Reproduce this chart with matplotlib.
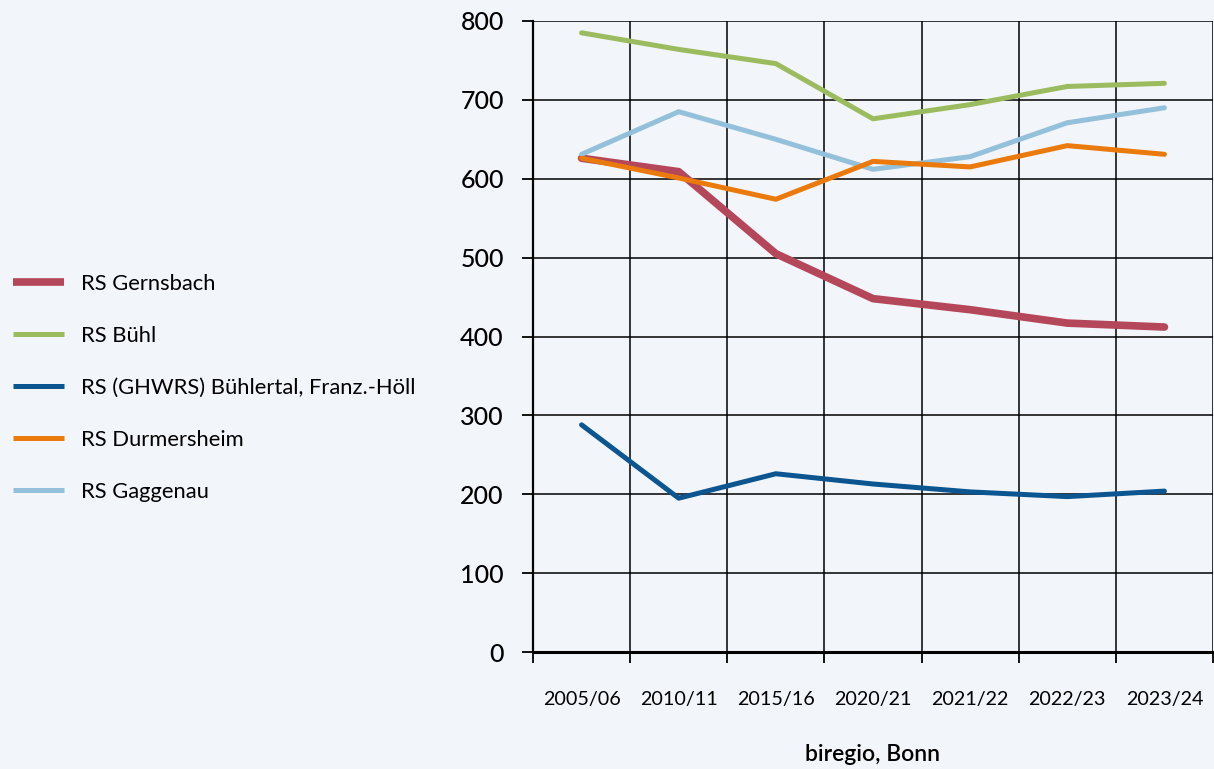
import numpy as np
import matplotlib.pyplot as plt
from matplotlib.ticker import FixedLocator, NullFormatter, FixedFormatter

# school years on the x axis
years = ["2005/06", "2010/11", "2015/16", "2020/21", "2021/22", "2022/23", "2023/24"]

# pupils per school
gernsbach = [626, 609, 505, 448, 434, 417, 412]
buehl = [785, 764, 746, 676, 694, 717, 721]
buehlertal = [288, 195, 226, 213, 203, 197, 204]
durmersheim = [626, 601, 574, 622, 615, 642, 631]
gaggenau = [631, 685, 650, 612, 628, 671, 690]

names = ["RS Gernsbach", "RS Bühl", "RS (GHWRS) Bühlertal, Franz.-Höll",
         "RS Durmersheim", "RS Gaggenau"]
colors = ["#b5475a", "#9bbb5f", "#0b5591", "#ea7a0b", "#93c0da"]
widths = [5.5, 3.6, 3.6, 3.6, 3.6]
series = [gernsbach, buehl, buehlertal, durmersheim, gaggenau]
# draw order: the red line sits below orange/light blue
order = [0, 1, 2, 4, 3]

bg = "#f2f5f9"
plt.rcParams['font.family'] = ['Lato', 'DejaVu Sans']

fig = plt.figure(figsize=(12.14, 7.69), dpi=100, facecolor=bg)
ax = fig.add_axes([533 / 1214, 117 / 769, 680 / 1214, 631 / 769])
ax.set_facecolor(bg)

x = np.arange(len(years)) + 0.5
lines = {}
for i in order:
    ln, = ax.plot(x, series[i], color=colors[i], lw=widths[i],
                  solid_capstyle='round', solid_joinstyle='round', label=names[i])
    lines[i] = ln

ax.set_xlim(0, len(years))
ax.set_ylim(0, 800)

# grid at category boundaries, labels at category centres
ax.xaxis.set_major_locator(FixedLocator(np.arange(len(years) + 1)))
ax.xaxis.set_major_formatter(NullFormatter())
ax.xaxis.set_minor_locator(FixedLocator(x))
ax.xaxis.set_minor_formatter(FixedFormatter(years))
ax.tick_params(axis='x', which='major', direction='out', length=8, width=1.3, color='black')
ax.tick_params(axis='x', which='minor', length=0, pad=28, labelsize=14.2)
ax.set_yticks(np.arange(0, 801, 100))
ax.tick_params(axis='y', direction='out', length=8, width=1.3, pad=13, labelsize=18)
for t in ax.get_yticklabels():
    t.set_fontweight('medium')

ax.grid(True, which='major', color='black', lw=1.1)
ax.set_axisbelow(True)
for s in ['top', 'right']:
    ax.spines[s].set_visible(False)
ax.spines['left'].set_linewidth(1.6)
ax.spines['bottom'].set_linewidth(2.2)

ax.set_xlabel("biregio, Bonn", fontsize=16.5, fontweight='semibold', labelpad=26)

handles = [lines[i] for i in range(5)]
leg = fig.legend(handles, names, loc='upper left', bbox_to_anchor=(0.0, 0.661),
                 frameon=False, fontsize=15.8, handlelength=2.3, handletextpad=0.78,
                 labelspacing=1.46, borderaxespad=0.2)
for h in leg.legend_handles:
    h.set_solid_capstyle('butt')

fig.savefig("out.png", dpi=100, facecolor=bg)
